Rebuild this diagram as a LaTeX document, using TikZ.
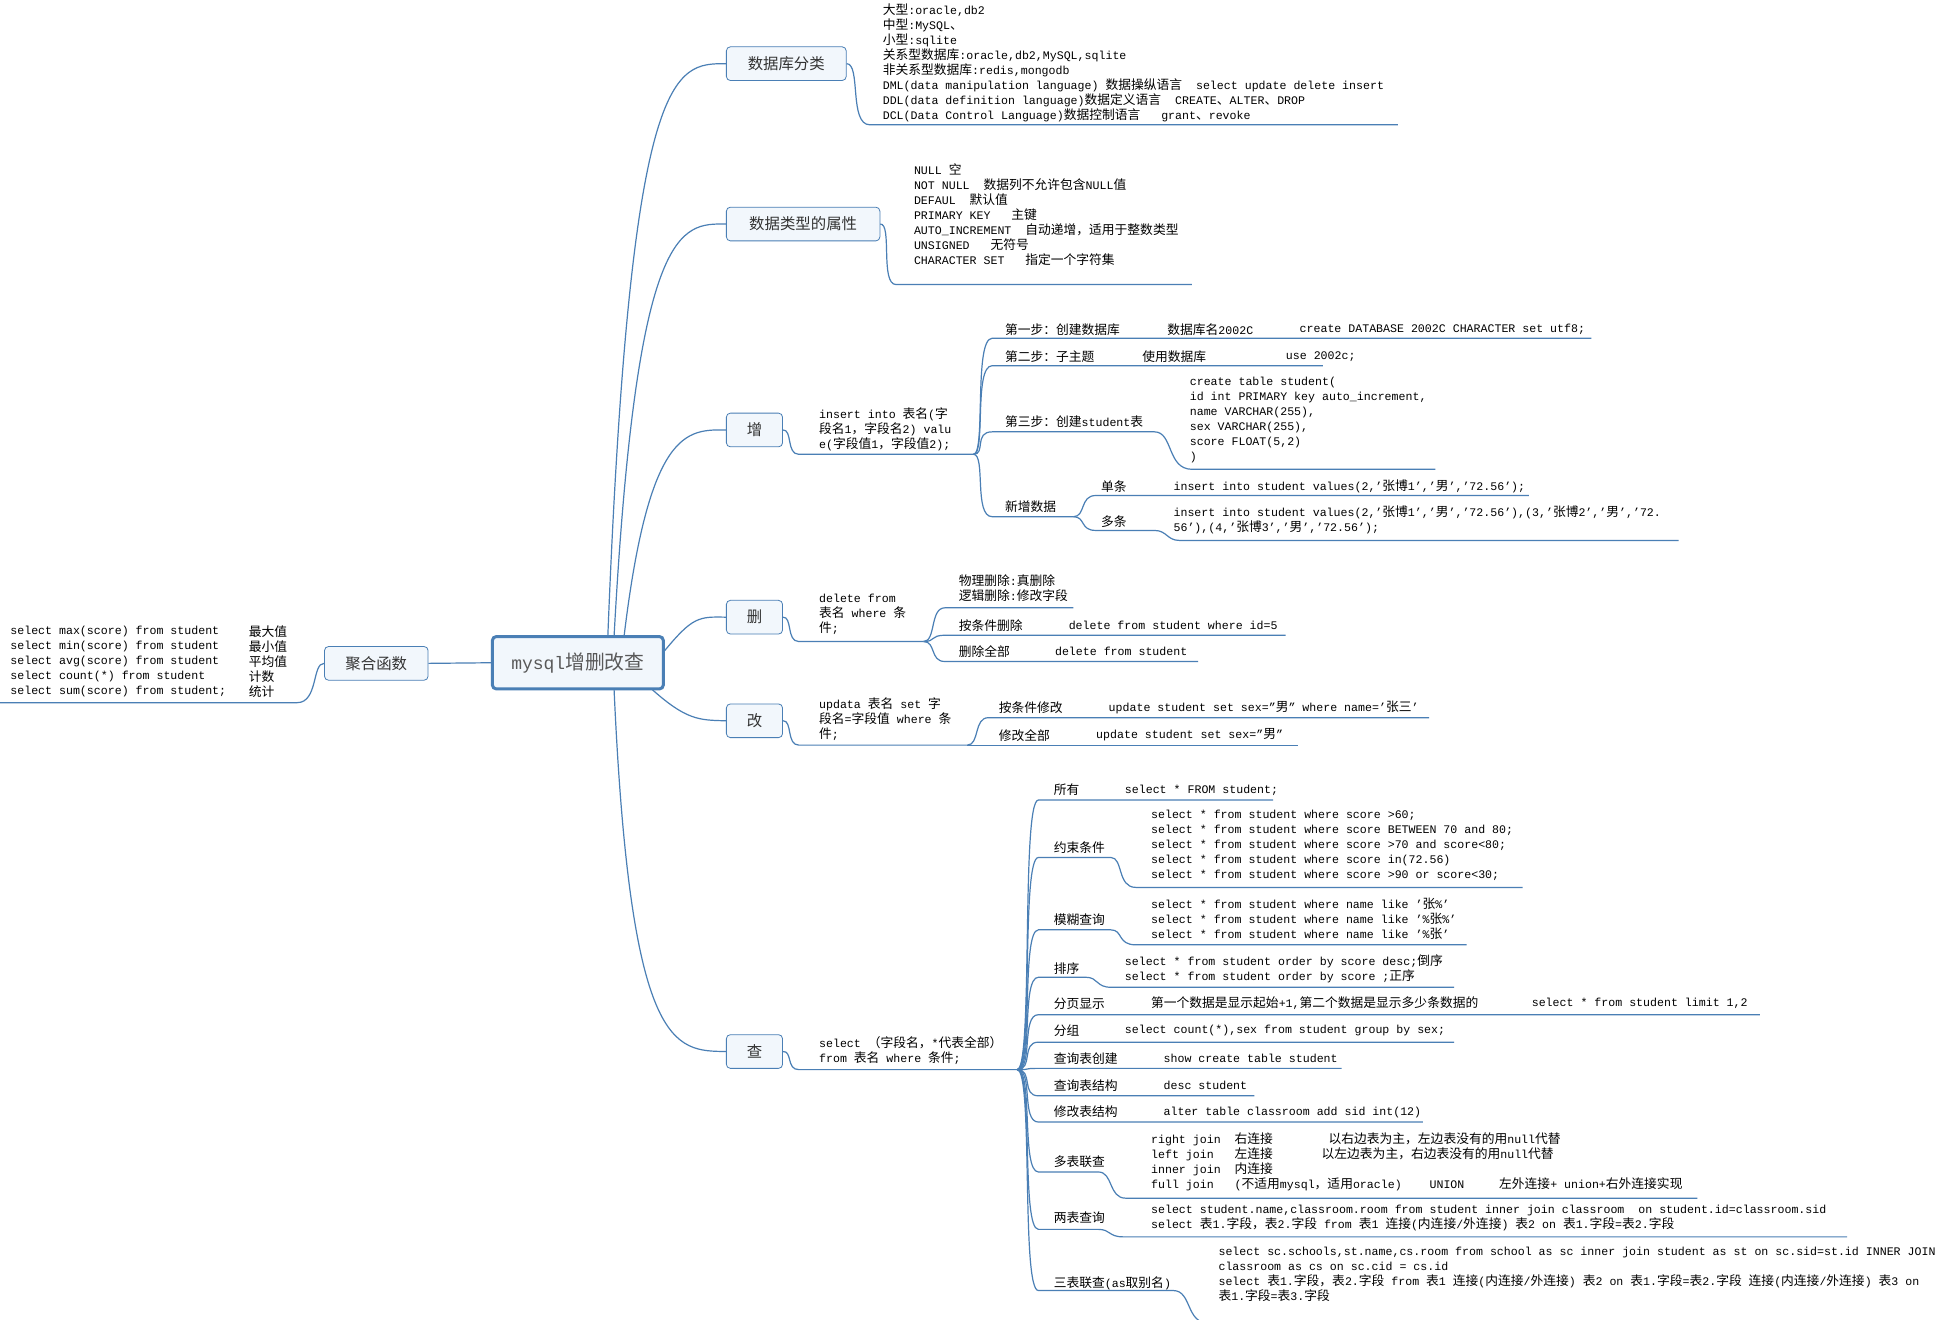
\documentclass[tikz,border=0pt]{standalone}
\usepackage{fontspec}
\setmainfont{Liberation Mono}
\newfontfamily\cjk{Noto Sans CJK SC}[Scale=1.1]
\XeTeXinterchartokenstate=1
\newXeTeXintercharclass\CJKcls
\count255="4E00 \loop\XeTeXcharclass\count255=\CJKcls\ifnum\count255<"9FFF\advance\count255 by 1\repeat
\count255="3000 \loop\XeTeXcharclass\count255=\CJKcls\ifnum\count255<"303F\advance\count255 by 1\repeat
\count255="FF00 \loop\XeTeXcharclass\count255=\CJKcls\ifnum\count255<"FFEF\advance\count255 by 1\repeat
\XeTeXinterchartoks 0 \CJKcls = {\begingroup\cjk}
\XeTeXinterchartoks 4095 \CJKcls = {\begingroup\cjk}
\XeTeXinterchartoks \CJKcls 0 = {\endgroup}
\XeTeXinterchartoks \CJKcls 4095 = {\endgroup}
\definecolor{ln}{HTML}{4A7FB5}
\definecolor{bx}{HTML}{F2F7FC}
\begin{document}
\begin{tikzpicture}[x=0.624pt,y=-0.624pt,
  t/.style={font=\fontsize{5.8}{7.5}\selectfont,inner sep=0pt,align=left,anchor=west},
  tb/.style={t,anchor=north west},
  topic/.style={draw=ln,fill=bx,rounded corners=2pt,inner sep=0pt,font=\fontsize{7}{8}\selectfont,text=black!80},
  l/.style={draw=ln,line width=0.6pt},
  cv/.style={l}]
\fill[white] (0,0) rectangle (1560,1057);
\useasboundingbox (0,0) rectangle (1560,1057);
% center and topics
\node[draw=ln,fill=bx,line width=1.5pt,rounded corners=2pt,minimum width=137*0.624pt,minimum height=42*0.624pt,font=\fontsize{9}{10}\selectfont,text=black!65] (c) at (463,531) {mysql增删改查};
\node[topic,minimum width=96*0.624pt,minimum height=27*0.624pt] (t1) at (630,51) {数据库分类};
\node[topic,minimum width=123*0.624pt,minimum height=27*0.624pt] (t2) at (643.5,179.5) {数据类型的属性};
\node[topic,minimum width=45*0.624pt,minimum height=27*0.624pt] (t3) at (604.5,344.5) {增};
\node[topic,minimum width=45*0.624pt,minimum height=27*0.624pt] (t4) at (604.5,494.5) {删};
\node[topic,minimum width=45*0.624pt,minimum height=27*0.624pt] (t5) at (604.5,577.5) {改};
\node[topic,minimum width=45*0.624pt,minimum height=27*0.624pt] (t6) at (604.5,842.5) {查};
\node[topic,minimum width=83*0.624pt,minimum height=27*0.624pt] (t7) at (301.5,531.5) {聚合函数};
\coordinate (c1) at (487,510); \coordinate (c2) at (492,510); \coordinate (c3) at (500,510);
\coordinate (c4) at (532,522); \coordinate (c5) at (522,552); \coordinate (c6) at (492,552);
\draw[l] (c1) .. controls (505,51) and (540,51) .. (t1.west);
\draw[l] (c2) .. controls (510,179) and (545,179) .. (t2.west);
\draw[l] (c3) .. controls (520,344) and (550,344) .. (t3.west);
\draw[l] (c4) .. controls (555,494) and (560,494) .. (t4.west);
\draw[l] (c5) .. controls (550,577) and (560,577) .. (t5.west);
\draw[l] (c6) .. controls (505,842) and (540,842) .. (t6.west);
\draw[l] (c.west) -- (t7.east);
% 数据库分类
\coordinate (u1) at (697,100);
\draw[l] (t1.east) .. controls (690,51) and (680,100) .. (u1) -- (1120,100);
\node[tb] (d1) at (707,3) {大型:oracle,db2\\中型:MySQL、\\小型:sqlite\\关系型数据库:oracle,db2,MySQL,sqlite\\非关系型数据库:redis,mongodb\\DML(data manipulation language) 数据操纵语言\ \ select update delete insert\\DDL(data definition language)数据定义语言\ \ CREATE、ALTER、DROP\\DCL(Data Control Language)数据控制语言\ \ \ grant、revoke};
% 数据类型的属性
\coordinate (u2) at (718,228);
\draw[l] (t2.east) .. controls (715,179) and (705,228) .. (u2) -- (955,228);
\node[tb] (d2) at (732,131) {NULL 空\\NOT NULL\ \ 数据列不允许包含NULL值\\DEFAUL\ \ 默认值\\PRIMARY KEY\ \ \ 主键\\AUTO\_INCREMENT\ \ 自动递增，适用于整数类型\\UNSIGNED\ \ \ 无符号\\CHARACTER SET\ \ \ 指定一个字符集};
% 增
\coordinate (h3) at (780,364);
\draw[l] (t3.east) .. controls (635,344) and (630,364) .. (640,364) -- (h3);
\node[tb] (d3) at (656,326) {insert into 表名(字\\段名1，字段名2) valu\\e(字段值1，字段值2);};
\draw[l] (h3) .. controls (790,364) and (780,271) .. (795,271) -- (1275,271);
\draw[l] (h3) .. controls (790,364) and (780,293) .. (795,293) -- (1060,293);
\draw[l] (h3) .. controls (790,364) and (780,346) .. (795,346) -- (925,346) .. controls (940,346) and (935,376) .. (955,376) -- (1150,376);
\draw[l] (h3) .. controls (790,364) and (780,414) .. (795,414) -- (860,414);
\coordinate (h3b) at (860,414);
\draw[l] (h3b) .. controls (870,414) and (865,397) .. (878,397) -- (1225,397);
\draw[l] (h3b) .. controls (870,414) and (865,425) .. (878,425) -- (925,425) .. controls (935,425) and (935,433) .. (945,433) -- (1345,433);
\node[t] (a1) at (805,264) {第一步：创建数据库};
\node[t] (a2) at (935,264) {数据库名2002C};
\node[t] (a3) at (1041,264) {create DATABASE 2002C CHARACTER set utf8;};
\node[t] (b1) at (805,286) {第二步：子主题};
\node[t] (b2) at (915,286) {使用数据库};
\node[t] (b3) at (1030,286) {use 2002c;};
\node[t] (e1) at (805,338) {第三步：创建student表};
\node[tb] (e2) at (953,302) {create table student(\\id int PRIMARY key auto\_increment,\\name VARCHAR(255),\\sex VARCHAR(255),\\score FLOAT(5,2)\\)};
\node[t] (f1) at (805,406) {新增数据};
\node[t] (f2) at (882,390) {单条};
\node[t] (f3) at (940,390) {insert into student values(2,’张博1’,’男’,’72.56’);};
\node[t] (f4) at (882,418) {多条};
\node[tb] (f5) at (940,405) {insert into student values(2,’张博1’,’男’,’72.56’),(3,’张博2’,’男’,’72.\\56’),(4,’张博3’,’男’,’72.56’);};
% 删
\coordinate (h4) at (740,514);
\draw[l] (t4.east) .. controls (635,494) and (630,514) .. (640,514) -- (h4);
\node[tb] (g0) at (656,476) {delete from\\表名 where 条\\件;};
\draw[l] (h4) .. controls (750,514) and (745,487) .. (757,487) -- (860,487);
\draw[l] (h4) .. controls (750,514) and (745,509) .. (757,509) -- (1030,509);
\draw[l] (h4) .. controls (750,514) and (745,530) .. (757,530) -- (960,530);
\node[tb] (g1) at (768,460) {物理删除:真删除\\逻辑删除:修改字段};
\node[t] (g2) at (768,501) {按条件删除};
\node[t] (g3) at (856,501) {delete from student where id=5};
\node[t] (g4) at (768,522) {删除全部};
\node[t] (g5) at (845,522) {delete from student};
% 改
\coordinate (h5) at (775,597);
\draw[l] (t5.east) .. controls (635,577) and (630,597) .. (640,597) -- (h5);
\node[tb] (k0) at (656,559) {updata 表名 set 字\\段名=字段值 where 条\\件;};
\draw[l] (h5) .. controls (785,597) and (780,575) .. (792,575) -- (1145,575);
\draw[l] (h5) -- (1040,597);
\node[t] (k1) at (800,567) {按条件修改};
\node[t] (k2) at (888,567) {update student set sex=”男” where name=’张三’};
\node[t] (k3) at (800,589) {修改全部};
\node[t] (k4) at (878,589) {update student set sex=”男”};
% 查
\coordinate (h6) at (815,857);
\draw[l] (t6.east) .. controls (635,842) and (630,857) .. (640,857) -- (h6);
\node[tb] (q0) at (656,830) {select （字段名，*代表全部）\\from 表名 where 条件;};
\foreach \y/\e in {641/1020,813/1410,835/1165,856/1075,878/1005,899/1140}
  \draw[l] (h6) .. controls (828,857) and (818,\y) .. (832,\y) -- (\e,\y);
\draw[l] (h6) .. controls (828,857) and (818,687) .. (832,687) -- (890,687) .. controls (900,687) and (895,711) .. (910,711) -- (1220,711);
\draw[l] (h6) .. controls (828,857) and (818,745) .. (832,745) -- (890,745) .. controls (900,745) and (895,757) .. (910,757) -- (1175,757);
\draw[l] (h6) .. controls (828,857) and (818,783) .. (832,783) -- (870,783) .. controls (880,783) and (878,791) .. (890,791) -- (1165,791);
\draw[l] (h6) .. controls (828,857) and (818,939) .. (832,939) -- (880,939) .. controls (892,939) and (888,960) .. (902,960) -- (1360,960);
\draw[l] (h6) .. controls (828,857) and (818,985) .. (832,985) -- (880,985) .. controls (890,985) and (888,991) .. (900,991) -- (1480,991);
\draw[l] (h6) .. controls (828,857) and (818,1034) .. (832,1034) -- (940,1034) .. controls (955,1034) and (950,1060) .. (968,1060) -- (1560,1060);
\node[t] (s1) at (844,633) {所有};
\node[t] (s1b) at (901,633) {select * FROM student;};
\node[t] (s2) at (844,679) {约束条件};
\node[tb] (s2b) at (922,649) {select * from student where score >60;\\select * from student where score BETWEEN 70 and 80;\\select * from student where score >70 and score<80;\\select * from student where score in(72.56)\\select * from student where score >90 or score<30;};
\node[t] (s3) at (844,737) {模糊查询};
\node[tb] (s3b) at (922,719) {select * from student where name like ’张\%’\\select * from student where name like ’\%张\%’\\select * from student where name like ’\%张’};
\node[t] (s4) at (844,776) {排序};
\node[tb] (s4b) at (901,765) {select * from student order by score desc;倒序\\select * from student order by score ;正序};
\node[t] (s5) at (844,804) {分页显示};
\node[t] (s5b) at (922,804) {第一个数据是显示起始+1,第二个数据是显示多少条数据的};
\node[t] (s5c) at (1227,804) {select * from student limit 1,2};
\node[t] (s6) at (844,826) {分组};
\node[t] (s6b) at (901,826) {select count(*),sex from student group by sex;};
\node[t] (s7) at (844,848) {查询表创建};
\node[t] (s7b) at (932,848) {show create table student};
\node[t] (s8) at (844,870) {查询表结构};
\node[t] (s8b) at (932,870) {desc student};
\node[t] (s9) at (844,891) {修改表结构};
\node[t] (s9b) at (932,891) {alter table classroom add sid int(12)};
\node[t] (s10) at (844,931) {多表联查};
\node[tb] (s10b) at (922,907) {right join\ \ 右连接\ \ \ \ \ \ \ \ 以右边表为主，左边表没有的用null代替\\left join\ \ \ 左连接\ \ \ \ \ \ \ 以左边表为主，右边表没有的用null代替\\inner join\ \ 内连接\\full join\ \ \ (不适用mysql，适用oracle)\ \ \ \ UNION\ \ \ \ \ 左外连接+ union+右外连接实现};
\node[t] (s11) at (844,976) {两表查询};
\node[tb] (s11b) at (922,965) {select student.name,classroom.room from student inner join classroom\ \ on student.id=classroom.sid\\select 表1.字段，表2.字段 from 表1 连接(内连接/外连接) 表2 on 表1.字段=表2.字段};
\node[t] (s12) at (844,1028) {三表联查(as取别名)};
\node[tb] (s12b) at (976,999) {select sc.schools,st.name,cs.room from school as sc inner join student as st on sc.sid=st.id INNER JOIN\\classroom as cs on sc.cid = cs.id\\select 表1.字段，表2.字段 from 表1 连接(内连接/外连接) 表2 on 表1.字段=表2.字段\ 连接(内连接/外连接) 表3 on\\表1.字段=表3.字段};
% 聚合函数
\draw[l] (t7.west) .. controls (250,531) and (255,563) .. (238,563) -- (0,563);
\node[tb] (m1) at (8,501) {select max(score) from student\\select min(score) from student\\select avg(score) from student\\select count(*) from student\\select sum(score) from student;};
\node[tb] (m2) at (199,501) {最大值\\最小值\\平均值\\计数\\统计};
\end{tikzpicture}
\end{document}
